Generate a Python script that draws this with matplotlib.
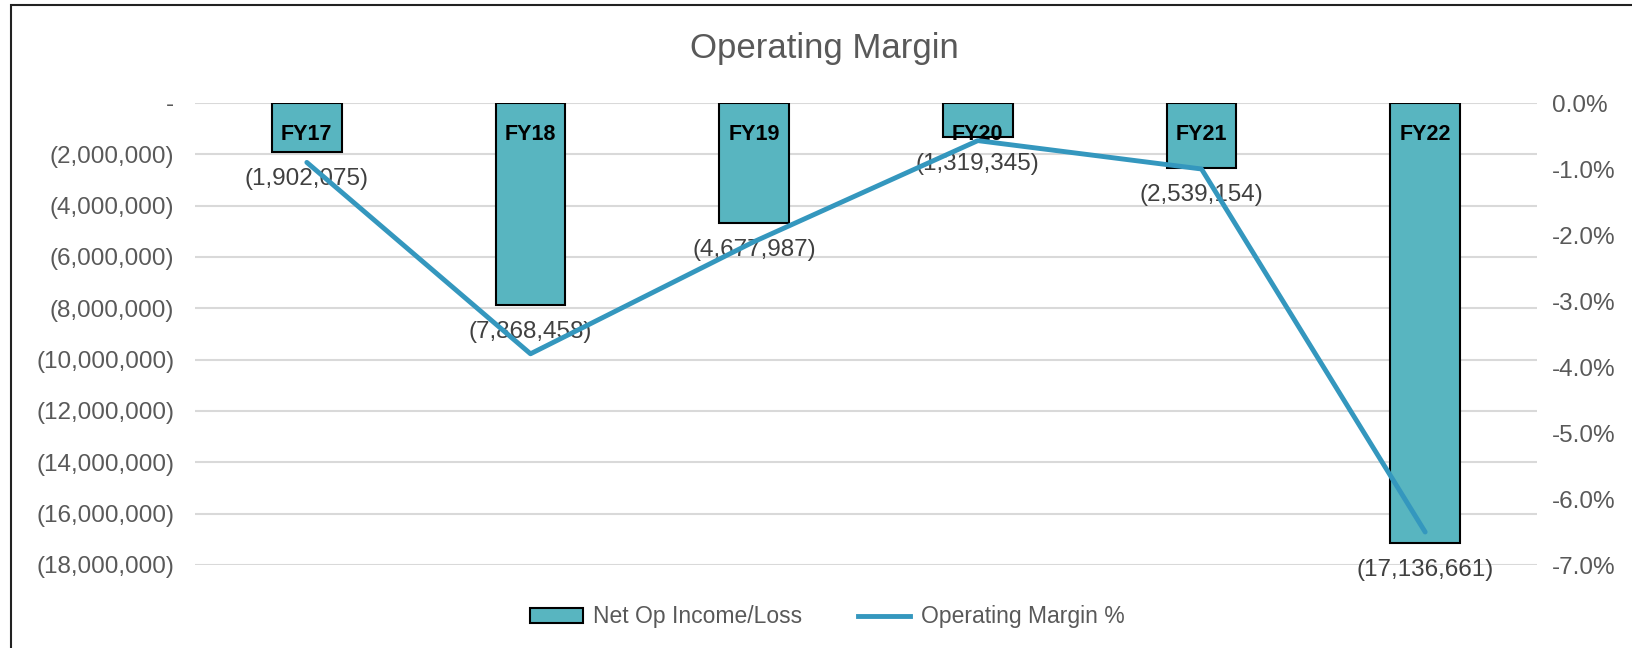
import matplotlib
matplotlib.use("Agg")
import matplotlib.pyplot as plt
from matplotlib.ticker import FuncFormatter, MultipleLocator
from matplotlib.lines import Line2D
from matplotlib.patches import Patch, Rectangle

# ---- data ----
categories = ["FY17", "FY18", "FY19", "FY20", "FY21", "FY22"]
net_op_income = [-1902075, -7868458, -4677987, -1319345, -2539154, -17136661]
op_margin_pct = [-0.9, -3.8, -2.1, -0.57, -1.0, -6.5]
value_labels = ["(1,902,075)", "(7,868,458)", "(4,677,987)", "(1,319,345)", "(2,539,154)", "(17,136,661)"]

FONT = "Liberation Sans"
plt.rcParams["font.family"] = [FONT, "DejaVu Sans"]

BAR_COLOR = "#58B5C0"
LINE_COLOR = "#3497BE"
GRID_COLOR = "#D9D9D9"
TEXT_GRAY = "#595959"
LABEL_GRAY = "#404040"

fig = plt.figure(figsize=(16.32, 6.48), dpi=100)
ax = fig.add_axes([195 / 1632, 1 - 565 / 648, (1537 - 195) / 1632, (565 - 103) / 648])

x = list(range(len(categories)))
bars = ax.bar(x, net_op_income, width=0.31, color=BAR_COLOR, edgecolor="black", linewidth=1.5, zorder=2)
ax.set_xlim(-0.5, len(categories) - 0.5)
ax.set_ylim(-18000000, 0)
ax.yaxis.set_major_locator(MultipleLocator(2000000))
ax.yaxis.grid(True, color=GRID_COLOR, linewidth=1.5, zorder=0)
ax.set_axisbelow(True)
ax.set_xticks([])

def left_fmt(v, pos):
    if abs(v) < 1:
        return "-"
    return "({:,.0f})".format(abs(v)) if v < 0 else "{:,.0f}".format(v)

ax.yaxis.set_major_formatter(FuncFormatter(left_fmt))
ax.tick_params(axis="y", length=0, pad=15, labelsize=17.5, labelcolor=TEXT_GRAY)
for s in ax.spines.values():
    s.set_visible(False)

# data labels
for xi, val, cat, lab in zip(x, net_op_income, categories, value_labels):
    ax.annotate(cat, (xi, 0), xytext=(0, -23), textcoords="offset points",
                ha="center", va="center", fontsize=15.5, fontweight="bold", color="black", zorder=5)
    ax.annotate(lab, (xi, val), xytext=(0, -19.5), textcoords="offset points",
                ha="center", va="center", fontsize=17.5, color=LABEL_GRAY, zorder=5)

ax2 = ax.twinx()
ax2.plot(x, op_margin_pct, color=LINE_COLOR, linewidth=3.5, solid_capstyle="round", zorder=3)
ax2.set_ylim(-7, 0)
ax2.yaxis.set_major_locator(MultipleLocator(1))
ax2.yaxis.set_major_formatter(FuncFormatter(lambda v, p: "{:.1f}%".format(v + 0.0)))
ax2.tick_params(axis="y", length=0, pad=11, labelsize=17.5, labelcolor=TEXT_GRAY)
for s in ax2.spines.values():
    s.set_visible(False)

fig.text(0.505, 1 - 47 * 1.0408 / 648, "Operating Margin", ha="center", va="center",
         fontsize=25, color=TEXT_GRAY)

handles = [Patch(facecolor=BAR_COLOR, edgecolor="black", linewidth=1.5, label="Net Op Income/Loss"),
           Line2D([0], [0], color=LINE_COLOR, linewidth=3.5, label="Operating Margin %")]
leg = fig.legend(handles=handles, loc="center", bbox_to_anchor=(0.507, 1 - 617 / 648), ncol=2,
                 frameon=False, fontsize=16.5, handlelength=2.3, handleheight=0.6, columnspacing=2.4,
                 handletextpad=0.45)
for t in leg.get_texts():
    t.set_color(TEXT_GRAY)

# outer chart border
fig.patches.append(Rectangle((11 / 1632, -0.05), 1.2, 1 - 5 / 648 + 0.05, transform=fig.transFigure,
                             fill=False, edgecolor="#222222", linewidth=1.5, zorder=10))

fig.savefig("out.png", dpi=100)
